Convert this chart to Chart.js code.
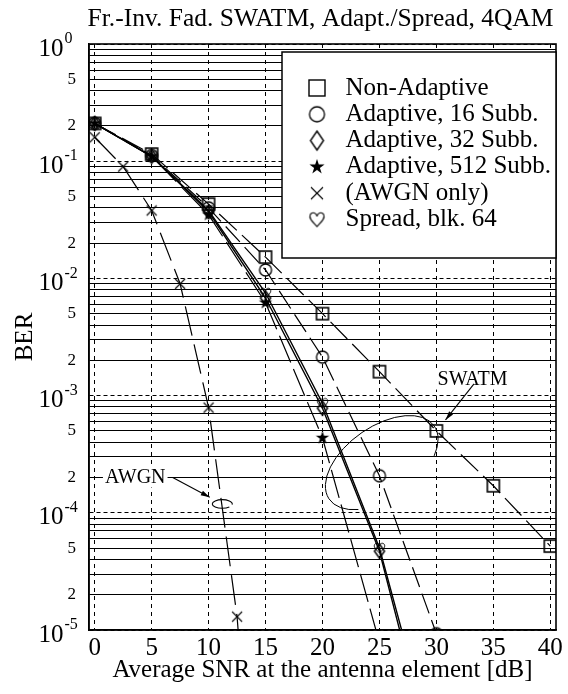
<!DOCTYPE html>
<html>
<head>
<meta charset="utf-8">
<script src="https://cdn.jsdelivr.net/npm/chart.js@4.4.0/dist/chart.umd.min.js"></script>
<style>
html,body{margin:0;padding:0;background:#fff;}
#wrap{width:568px;height:694px;}
</style>
</head>
<body>
<div id="wrap"><canvas id="c" width="568" height="694"></canvas></div>
<script>
// ---------------- data ----------------
const snr = [0, 5, 10, 15, 20, 25, 30, 35, 40];
const snrAwgn = [0, 2.5, 5, 7.5, 10, 12.5, 15];
const berNonAdaptive = [0.21, 0.115, 0.043, 0.0152, 0.0050, 0.0016, 5.0e-4, 1.7e-4, 5.2e-5];
const berAdaptive16 = [0.21, 0.112, 0.040, 0.0118, 0.00213, 2.07e-4, 9.3e-6];
const berAdaptive32 = [0.21, 0.11, 0.037, 0.0068, 7.8e-4, 4.7e-5, 6.0e-7];
const berAdaptive512 = [0.21, 0.11, 0.035, 0.0062, 4.35e-4, 7.8e-6];
const berAwgn = [0.16, 0.09, 0.038, 0.009, 7.9e-4, 1.3e-5, 1.0e-8];
const berSpread64 = [0.21, 0.11, 0.038, 0.0075, 8.6e-4, 5.0e-5, 8.0e-7];
const seriesLabels = ['Non-Adaptive', 'Adaptive, 16 Subb.', 'Adaptive, 32 Subb.', 'Adaptive, 512 Subb.', '(AWGN only)', 'Spread, blk. 64'];

const xTickValues = [0, 5, 10, 15, 20, 25, 30, 35, 40];
const yDecades = [1e-5, 1e-4, 1e-3, 1e-2, 1e-1, 1];
const yDecadeExponents = ['-5', '-4', '-3', '-2', '-1', '0'];
const yMinorMantissas = [2, 3, 4, 5, 6, 7, 8, 9];
const yLabeledMantissas = [2, 5];

const titleText = 'Fr.-Inv. Fad. SWATM, Adapt./Spread, 4QAM';
const xTitle = 'Average SNR at the antenna element [dB]';
const yTitle = 'BER';

// annotations (data coordinates)
const awgnNote = { text: 'AWGN', x: 0.9, y: 2e-4, tailX: 6.85, tailY: 2e-4, headX: 10.1, headY: 1.36e-4, ellX: 11.2, ellY: 1.19e-4 };
const swatmNote = { text: 'SWATM', x: 30.1, y: 1.37e-3, tailX: 33.3, tailY: 1.26e-3, headX: 30.8, headY: 6.2e-4, ellX: 25.2, ellY: 2.68e-4 };

// ---------------- styles ----------------
const FAMILY = "'Liberation Serif', 'Times New Roman', serif";
const FS = 25;
Chart.defaults.font.family = FAMILY;
Chart.defaults.color = '#000';

function mk(w, h, fn) {
  const c = document.createElement('canvas');
  c.width = w; c.height = h;
  const g = c.getContext('2d');
  g.strokeStyle = '#000'; g.fillStyle = '#000';
  fn(g, w / 2, h / 2);
  return c;
}
function squareM(s, lw) { return mk(s + 4, s + 4, (g, cx, cy) => { g.lineWidth = lw; g.strokeRect(cx - s / 2, cy - s / 2, s, s); }); }
function circleM(d, lw) { return mk(d + 4, d + 4, (g, cx, cy) => { g.lineWidth = lw; g.beginPath(); g.arc(cx, cy, d / 2, 0, Math.PI * 2); g.stroke(); }); }
function diamondM(w, h, lw) { return mk(w + 4, h + 4, (g, cx, cy) => { g.lineWidth = lw; g.beginPath(); g.moveTo(cx, cy - h / 2); g.lineTo(cx + w / 2, cy); g.lineTo(cx, cy + h / 2); g.lineTo(cx - w / 2, cy); g.closePath(); g.stroke(); }); }
function starM(r) { return mk(2 * r + 4, 2 * r + 4, (g, cx, cy) => { g.beginPath(); for (let i = 0; i < 10; i++) { const rr = i % 2 ? r * 0.38 : r; const a = -Math.PI / 2 + i * Math.PI / 5; const px = cx + rr * Math.cos(a), py = cy + rr * Math.sin(a); if (i) g.lineTo(px, py); else g.moveTo(px, py); } g.closePath(); g.fill(); }); }
function crossM(s, lw) { return mk(s + 4, s + 4, (g, cx, cy) => { g.lineWidth = lw; g.beginPath(); g.moveTo(cx - s / 2, cy - s / 2); g.lineTo(cx + s / 2, cy + s / 2); g.moveTo(cx + s / 2, cy - s / 2); g.lineTo(cx - s / 2, cy + s / 2); g.stroke(); }); }
function heartM(w, h, lw) { return mk(w + 4, h + 4, (g, cx, cy) => { g.lineWidth = lw; g.beginPath(); g.moveTo(cx, cy + h / 2); g.bezierCurveTo(cx - w * 0.35, cy + h * 0.1, cx - w * 0.55, cy - h * 0.1, cx - w * 0.45, cy - h * 0.35); g.bezierCurveTo(cx - w * 0.3, cy - h * 0.6, cx - w * 0.02, cy - h * 0.45, cx, cy - h * 0.22); g.bezierCurveTo(cx + w * 0.02, cy - h * 0.45, cx + w * 0.3, cy - h * 0.6, cx + w * 0.45, cy - h * 0.35); g.bezierCurveTo(cx + w * 0.55, cy - h * 0.1, cx + w * 0.35, cy + h * 0.1, cx, cy + h / 2); g.closePath(); g.stroke(); }); }

const plotMarkers = [squareM(12, 1.6), circleM(12, 1.3), diamondM(10, 14, 1.5), starM(7), crossM(10, 1.1), heartM(11, 10, 1)];
const legendMarkers = [squareM(16, 1.4), circleM(15, 1.3), diamondM(13, 19, 1.4), starM(8), crossM(12, 1.1), heartM(15, 14, 1.1)];

function pts(xs, ys) { return ys.map((v, i) => ({ x: xs[i], y: v })); }
function ds(i, xs, ys, dash, width) {
  return { label: seriesLabels[i], data: pts(xs, ys), borderColor: '#000', backgroundColor: '#000', borderWidth: width, borderDash: dash,
           pointStyle: plotMarkers[i], pointRadius: 6, pointHoverRadius: 6, fill: false, tension: 0 };
}

function mantissa(v) { const e = Math.floor(Math.log10(v) + 1e-9); return Math.round(v / Math.pow(10, e)); }
const FIG_SPACE = '\u2007';

function P(chart, x, y) { return [chart.scales.x.getPixelForValue(x), chart.scales.y.getPixelForValue(y)]; }
function arrow(ctx, x1, y1, x2, y2, len, wid) {
  ctx.beginPath(); ctx.moveTo(x1, y1); ctx.lineTo(x2, y2); ctx.stroke();
  const a = Math.atan2(y2 - y1, x2 - x1);
  ctx.beginPath();
  ctx.moveTo(x2, y2);
  ctx.lineTo(x2 - len * Math.cos(a) + wid * Math.sin(a), y2 - len * Math.sin(a) - wid * Math.cos(a));
  ctx.lineTo(x2 - len * Math.cos(a) - wid * Math.sin(a), y2 - len * Math.sin(a) + wid * Math.cos(a));
  ctx.closePath(); ctx.fill();
}
function labelBox(ctx, text, x, y) {
  ctx.font = '20px ' + FAMILY;
  const w = ctx.measureText(text).width;
  ctx.fillStyle = '#fff'; ctx.fillRect(x - 2, y - 10, w + 4, 20);
  ctx.fillStyle = '#000'; ctx.textAlign = 'left'; ctx.textBaseline = 'middle';
  ctx.fillText(text, x, y);
}
const LEG_W = 274, LEG_H = 206, LEG_TOP = 8, LEG_PAD = 1.3, LEG_FIRST = 36;
function legendFrame(chart) {
  const ca = chart.chartArea, ctx = chart.ctx;
  ctx.save();
  ctx.fillStyle = '#fff'; ctx.strokeStyle = '#000'; ctx.lineWidth = 1.5;
  ctx.fillRect(ca.right - LEG_W, ca.top + LEG_TOP, LEG_W, LEG_H);
  ctx.strokeRect(ca.right - LEG_W, ca.top + LEG_TOP, LEG_W, LEG_H);
  ctx.restore();
}

const customPlugin = {
  id: 'custom',
  beforeLayout(chart) {
    const lg = chart.legend;
    if (lg && !lg._customLayers) {
      lg._customLayers = true;
      lg._layers = () => [{ z: 5, draw: (area) => { legendFrame(chart); lg.draw(area); } }];
    }
  },
  afterUpdate(chart) {
    const ca = chart.chartArea;
    const lg = chart.legend;
    if (lg) {
      const boxL = ca.right - LEG_W, boxT = ca.top + LEG_TOP;
      lg.left = boxL + 35 - 16 - LEG_PAD; lg.top = boxT + LEG_FIRST - LEG_PAD - FS / 2;
      lg.right = lg.left + 262; lg.bottom = lg.top + 400;
      lg.adjustHitBoxes();
    }
    const tb = chart.titleBlock;
    if (tb) { const c = (ca.left + ca.right) / 2 - 2; tb.left = c - 280; tb.right = c + 280; }
  },
  afterDatasetsDraw(chart) {
    const ctx = chart.ctx, ca = chart.chartArea;
    ctx.save();
    ctx.strokeStyle = '#000'; ctx.fillStyle = '#000';
    // AWGN annotation
    let [tx, ty] = P(chart, awgnNote.x, awgnNote.y);
    labelBox(ctx, awgnNote.text, tx, ty);
    let [ax, ay] = P(chart, awgnNote.tailX, awgnNote.tailY);
    let [hx, hy] = P(chart, awgnNote.headX, awgnNote.headY);
    ctx.lineWidth = 1.1; ctx.fillStyle = '#000';
    arrow(ctx, ax, ay, hx, hy, 9, 2.5);
    let [ex, ey] = P(chart, awgnNote.ellX, awgnNote.ellY);
    ctx.beginPath(); ctx.ellipse(ex, ey, 10, 4.3, 0, 0.25 * Math.PI, 2.05 * Math.PI); ctx.stroke();
    // SWATM annotation
    [tx, ty] = P(chart, swatmNote.x, swatmNote.y);
    labelBox(ctx, swatmNote.text, tx, ty);
    [ax, ay] = P(chart, swatmNote.tailX, swatmNote.tailY);
    [hx, hy] = P(chart, swatmNote.headX, swatmNote.headY);
    ctx.lineWidth = 1.1;
    arrow(ctx, ax, ay, hx, hy, 9, 2.5);
    [ex, ey] = P(chart, swatmNote.ellX, swatmNote.ellY);
    ctx.lineWidth = 1;
    ctx.beginPath(); ctx.ellipse(ex, ey, 64, 36, -35 * Math.PI / 180, 136 * Math.PI / 180, 403 * Math.PI / 180); ctx.stroke();
    // plot frame
    ctx.lineWidth = 1.6;
    ctx.strokeRect(ca.left, ca.top, ca.right - ca.left, ca.bottom - ca.top);
    ctx.restore();
  },
  afterDraw(chart) {
    const ctx = chart.ctx, ys = chart.scales.y, ca = chart.chartArea;
    ctx.save();
    ctx.font = FS + 'px ' + FAMILY;
    const sp = ctx.measureText(FIG_SPACE).width;
    const labelRight = ca.left - ys.options.ticks.padding;
    ctx.font = '16px ' + FAMILY;
    ctx.fillStyle = '#000'; ctx.textAlign = 'left'; ctx.textBaseline = 'middle';
    yDecades.forEach((d, i) => {
      const py = ys.getPixelForValue(d);
      ctx.fillText(yDecadeExponents[i], labelRight - sp + 1, py - 5);
    });
    ctx.restore();
  }
};

const chart = new Chart(document.getElementById('c'), {
  type: 'line',
  data: {
    datasets: [
      ds(0, snr, berNonAdaptive, [24, 7], 1.2),
      ds(1, snr, berAdaptive16, [21, 7], 1.2),
      ds(2, snr, berAdaptive32, [], 1.4),
      ds(3, snr, berAdaptive512, [29, 7], 1.2),
      ds(4, snrAwgn, berAwgn, [30, 9], 1.2),
      ds(5, snr, berSpread64, [], 1.4)
    ]
  },
  options: {
    responsive: false,
    animation: false,
    devicePixelRatio: 1,
    events: [],
    layout: { padding: { left: 0, right: 12, top: 0, bottom: 0 } },
    plugins: {
      title: { display: true, text: titleText, color: '#000', font: { size: 25.5, weight: 'normal' }, padding: { top: 4, bottom: 9.4 } },
      legend: {
        display: true, position: 'chartArea', align: 'start',
        labels: {
          usePointStyle: true, pointStyleWidth: 32, padding: LEG_PAD, color: '#000',
          font: { size: FS },
          generateLabels: (chart) => Chart.defaults.plugins.legend.labels.generateLabels(chart).map((l, i) => Object.assign(l, { pointStyle: legendMarkers[i] }))
        }
      },
      tooltip: { enabled: false }
    },
    scales: {
      x: {
        type: 'linear', min: -0.5, max: 40.5,
        afterBuildTicks: (s) => { s.ticks = xTickValues.map(v => ({ value: v })); },
        afterFit: (s) => { s.height = 64; },
        grid: { color: '#000', lineWidth: 1, drawTicks: false },
        border: { display: true, color: '#000', width: 1.5, dash: (c) => (c.tick ? [4, 4] : []) },
        ticks: { color: '#000', font: { size: FS }, padding: 3, maxRotation: 0, autoSkip: false },
        title: { display: true, text: xTitle, color: '#000', font: { size: FS }, padding: { top: 0, bottom: 9 } }
      },
      y: {
        type: 'logarithmic', min: 1e-5, max: 1,
        afterBuildTicks: (s) => {
          const t = [];
          yDecades.forEach((d, i) => { t.push({ value: d }); if (i < yDecades.length - 1) yMinorMantissas.forEach(m => t.push({ value: m * d })); });
          s.ticks = t;
        },
        afterFit: (s) => { s.width = 89; },
        grid: { color: '#000', lineWidth: 1, drawTicks: false },
        border: { display: true, color: '#000', width: 1.5, dash: (c) => (c.tick && mantissa(c.tick.value) === 1 ? [4, 3] : []) },
        ticks: {
          color: '#000', padding: 13, autoSkip: false,
          callback: (v) => { const m = mantissa(v); if (m === 1) return ['', '10' + FIG_SPACE]; if (yLabeledMantissas.includes(m)) return String(m); return ''; },
          font: (c) => { const v = c.tick && c.tick.value; if (v && mantissa(v) === 1) return { size: FS, lineHeight: '10px' }; return { size: 17 }; }
        },
        title: { display: true, text: yTitle, color: '#000', font: { size: FS }, padding: { top: 10, bottom: 0 } }
      }
    }
  },
  plugins: [customPlugin]
});
</script>
</body>
</html>
